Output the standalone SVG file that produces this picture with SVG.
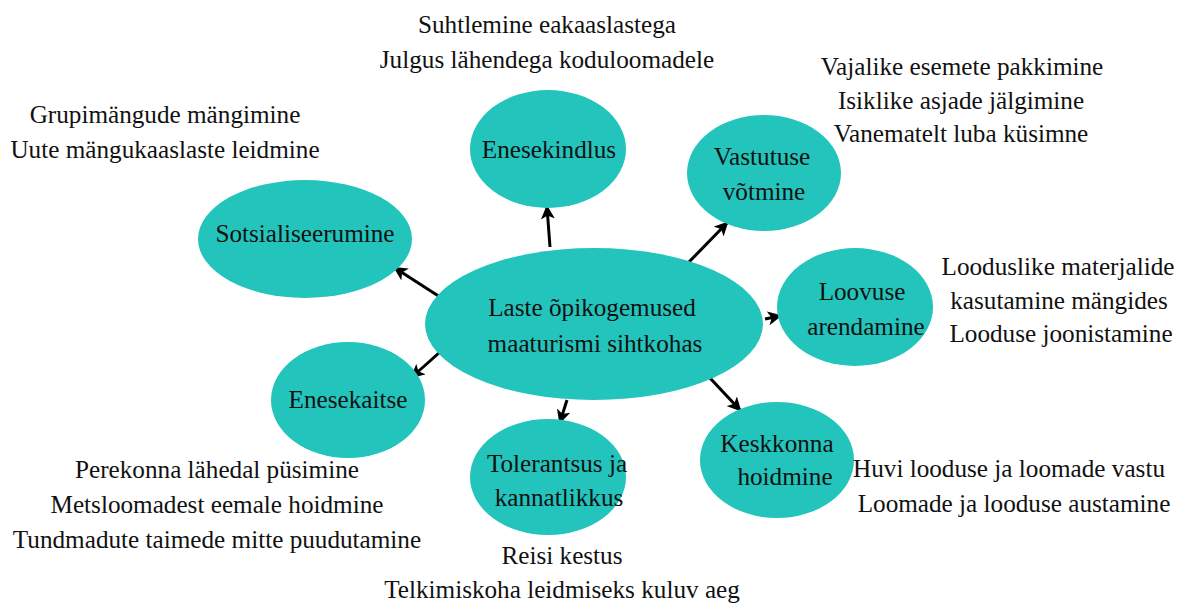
<svg xmlns="http://www.w3.org/2000/svg" width="1179" height="603" viewBox="0 0 1179 603">
<style>
.n{fill:#22C4BC;}
text{font-family:"Liberation Serif","Times New Roman",serif;font-size:25.2px;fill:#111;text-anchor:middle;}
.c{stroke:#000;stroke-width:3;fill:none;marker-end:url(#ah);}
</style>
<defs>
<marker id="ah" markerUnits="userSpaceOnUse" markerWidth="14" markerHeight="14" viewBox="0 0 14 14" refX="12" refY="7" orient="auto">
<path d="M0,0 L14,7 L0,14 L3.5,7 Z" fill="#000"/>
</marker>
</defs>
<rect width="1179" height="603" fill="#fff"/>
<g id="connectors">
<line class="c" x1="550" y1="247" x2="547" y2="207"/>
<line class="c" x1="688" y1="263" x2="727" y2="223"/>
<line class="c" x1="765" y1="319" x2="780" y2="316"/>
<line class="c" x1="710" y1="378" x2="740" y2="410"/>
<line class="c" x1="567" y1="400" x2="560" y2="422"/>
<line class="c" x1="440" y1="352" x2="412" y2="377"/>
<line class="c" x1="440" y1="297" x2="395" y2="268"/>
</g>
<g id="center">
<ellipse class="n" cx="594" cy="324" rx="169" ry="76"/>
<text x="592" y="316">Laste õpikogemused</text>
<text x="595" y="352">maaturismi sihtkohas</text>
</g>
<g id="enesekindlus">
<ellipse class="n" cx="548" cy="149" rx="78" ry="59"/>
<text x="549" y="158">Enesekindlus</text>
</g>
<g id="vastutus">
<ellipse class="n" cx="764" cy="173" rx="77" ry="58"/>
<text x="762" y="165">Vastutuse</text>
<text x="764" y="200">võtmine</text>
</g>
<g id="loovus">
<ellipse class="n" cx="855" cy="307" rx="78" ry="59"/>
<text x="862" y="300">Loovuse</text>
<text x="866" y="335">arendamine</text>
</g>
<g id="keskkond">
<ellipse class="n" cx="777" cy="460" rx="77" ry="58"/>
<text x="777" y="452">Keskkonna</text>
<text x="785" y="485">hoidmine</text>
</g>
<g id="tolerantsus">
<ellipse class="n" cx="548" cy="477" rx="78" ry="58"/>
<text x="557" y="472">Tolerantsus ja</text>
<text x="559" y="506">kannatlikkus</text>
</g>
<g id="enesekaitse">
<ellipse class="n" cx="348" cy="400" rx="77" ry="58"/>
<text x="348" y="408">Enesekaitse</text>
</g>
<g id="sotsialiseerumine">
<ellipse class="n" cx="305" cy="239" rx="107" ry="59"/>
<text x="305" y="242">Sotsialiseerumine</text>
</g>
<g id="labels">
<text x="547" y="33">Suhtlemine eakaaslastega</text>
<text x="547" y="68">Julgus lähendega koduloomadele</text>
<text x="165" y="123">Grupimängude mängimine</text>
<text x="165" y="158">Uute mängukaaslaste leidmine</text>
<text x="962" y="75">Vajalike esemete pakkimine</text>
<text x="961" y="109">Isiklike asjade jälgimine</text>
<text x="961" y="142">Vanematelt luba küsimne</text>
<text x="1058" y="275">Looduslike materjalide</text>
<text x="1059" y="309">kasutamine mängides</text>
<text x="1061" y="342">Looduse joonistamine</text>
<text x="1009" y="477">Huvi looduse ja loomade vastu</text>
<text x="1014" y="512">Loomade ja looduse austamine</text>
<text x="562" y="564">Reisi kestus</text>
<text x="562" y="598">Telkimiskoha leidmiseks kuluv aeg</text>
<text x="217" y="478">Perekonna lähedal püsimine</text>
<text x="217" y="513">Metsloomadest eemale hoidmine</text>
<text x="217" y="548">Tundmadute taimede mitte puudutamine</text>
</g>
</svg>
